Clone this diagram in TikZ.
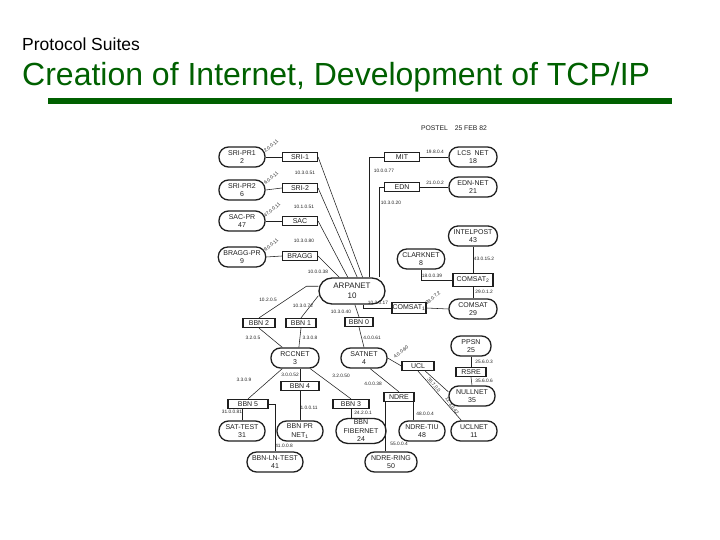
\documentclass[tikz,border=0pt]{standalone}
\usepackage{fontspec}
\setmainfont{Liberation Sans}
\usepackage{tikz}
\usetikzlibrary{positioning}

% colour of the slide title
\definecolor{titlegreen}{RGB}{0,96,0}
% colour of the scanned map
\colorlet{ink}{black!88}

\tikzset{
  % network (rounded box)
  net/.style={rectangle, rounded corners=9.5pt, draw=ink, line width=1.3pt,
    minimum width=46pt, minimum height=20pt, inner xsep=5pt, inner ysep=1pt,
    align=center, font=\fontsize{7}{8.5}\selectfont, text=ink},
  % gateway (square box)
  gate/.style={rectangle, draw=ink, line width=1.2pt, minimum width=35pt,
    minimum height=9pt, inner sep=0.6pt, font=\fontsize{7}{7}\selectfont, text=ink},
  % address label
  addr/.style={inner sep=0pt, font=\fontsize{4.8}{5}\selectfont, text=ink},
  % connection
  link/.style={draw=ink, line width=0.55pt},
}

\begin{document}
\begin{tikzpicture}[x=1pt,y=-1pt]
  \useasboundingbox (0,0) rectangle (720,540);

  % slide title
  \node[anchor=base west, inner sep=0pt, font=\fontsize{17.5}{20}\selectfont] (suite) at (22,51) {Protocol Suites};
  \node[anchor=base west, inner sep=0pt, text=titlegreen, font=\fontsize{32}{36}\selectfont] (title) at (22,86) {Creation of Internet, Development of TCP/IP};
  \fill[titlegreen] (48,98) rectangle (672,104);

  % date stamp
  \node[font=\fontsize{6.8}{7}\selectfont, text=ink] (postel) at (454,128) {POSTEL\quad 25 FEB 82};

  % packet radio nets and their gateways
  \node[net] (sripr1) at (242,157) {SRI-PR1\\2};
  \node[net] (sripr2) at (242,190) {SRI-PR2\\6};
  \node[net] (sacpr) at (242,221) {SAC-PR\\47};
  \node[net] (braggpr) at (242,257) {BRAGG-PR\\9};
  \node[gate] (sri1) at (300,157) {SRI-1};
  \node[gate] (sri2) at (300,188) {SRI-2};
  \node[gate] (sac) at (300,221) {SAC};
  \node[gate] (bragg) at (300,256) {BRAGG};

  % upper right
  \node[gate] (mit) at (402,157) {MIT};
  \node[gate] (edn) at (402,187) {EDN};
  \node[net, minimum width=48pt] (lcsnet) at (473,157) {LCS\enspace NET\\18};
  \node[net, minimum width=48pt] (ednnet) at (473,187) {EDN-NET\\21};
  \node[net, minimum width=48pt] (intelpost) at (473,236) {INTELPOST\\43};
  \node[net, minimum width=44pt] (clarknet) at (421,259) {CLARKNET\\8};
  \node[gate, minimum width=40pt, minimum height=13pt] (comsat2) at (473,280) {COMSAT\textsubscript{2}};

  % backbone
  \node[net, minimum width=66pt, minimum height=26pt, rounded corners=13pt, font=\fontsize{8}{9.5}\selectfont] (arpanet) at (352,291) {ARPANET\\10};
  \node[gate, minimum width=32pt, minimum height=11pt] (comsat1) at (409,308) {COMSAT\textsubscript{1}};
  \node[net, minimum width=48pt] (comsat29) at (473,309) {COMSAT\\29};
  \node[gate, minimum width=32pt] (bbn2) at (259,323) {BBN 2};
  \node[gate, minimum width=30pt] (bbn1) at (301,323) {BBN 1};
  \node[gate, minimum width=28pt] (bbn0) at (359,322) {BBN 0};

  % lower half
  \node[net, minimum width=40pt] (ppsn) at (471,346) {PPSN\\25};
  \node[net, minimum width=48pt] (rccnet) at (295,358) {RCCNET\\3};
  \node[net] (satnet) at (364,358) {SATNET\\4};
  \node[gate, minimum width=32pt] (ucl) at (418,366) {UCL};
  \node[gate, minimum width=30pt] (rsre) at (471,372) {RSRE};
  \node[gate, minimum width=38pt] (bbn4) at (300,386) {BBN 4};
  \node[net] (nullnet) at (472,396) {NULLNET\\35};
  \node[gate, minimum width=30pt] (ndre) at (399,397) {NDRE};
  \node[gate, minimum width=40pt] (bbn5) at (248,404) {BBN 5};
  \node[gate, minimum width=36pt] (bbn3) at (351,404) {BBN 3};
  \node[net] (sattest) at (242,431) {SAT-TEST\\31};
  \node[net] (bbnprnet) at (300,431) {BBN PR\\NET\textsubscript{1}};
  \node[net, minimum width=50pt, minimum height=25pt, rounded corners=12pt] (fibernet) at (361,431) {BBN\\FIBERNET\\24};
  \node[net] (ndretiu) at (422,431) {NDRE-TIU\\48};
  \node[net] (uclnet) at (474,431) {UCLNET\\11};
  \node[net, minimum width=54pt] (bbnlntest) at (275,462) {BBN-LN-TEST\\41};
  \node[net, minimum width=52pt] (ndrering) at (391,462) {NDRE-RING\\50};

  % connections
  \draw[link] (sripr1.east) -- (sri1.west);
  \draw[link] (sripr2.east) -- (sri2.west);
  \draw[link] (sacpr.east) -- (sac.west);
  \draw[link] (braggpr.east) -- (bragg.west);
  \draw[link] (sri1.east) -- (arpanet.52);
  \draw[link] (sri2.east) -- (arpanet.69);
  \draw[link] (sac.east) -- (arpanet.107);
  \draw[link] (bragg.east) -- (arpanet.133);
  \draw[link] (mit.west) -| (arpanet.39);
  \draw[link] (edn.west) -| (arpanet.27);
  \draw[link] (mit.east) -- (lcsnet.west);
  \draw[link] (edn.east) -- (ednnet.west);
  \draw[link] (intelpost.south) -- (comsat2.north);
  \draw[link] (clarknet.south) |- (comsat2.west);
  \draw[link] (comsat2.south) -- (comsat29.north);
  \draw[link] (arpanet.310) |- (comsat1.west);
  \draw[link] (comsat1.east) -- (comsat29.west);
  \draw[link] (arpanet.172) -- ++(-12,0) -- (bbn2.north);
  \draw[link] (arpanet.188) -- (bbn1.north);
  \draw[link] (arpanet.282) -- (bbn0.north);
  \draw[link] (bbn0.south) -- (satnet.north);
  \draw[link] (bbn2.south) -- (rccnet.140);
  \draw[link] (bbn1.south) -- (rccnet.70);
  \draw[link] (rccnet.220) -- (bbn5.north);
  \draw[link] (bbn4.north) -- (bbn4.north |- rccnet.south);
  \draw[link] (bbn4.south) -- (bbnprnet.north);
  \draw[link] (rccnet.325) -- (bbn3.north);
  \draw[link] (bbn3.south) -- (bbn3.south |- fibernet.north);
  \draw[link] (bbn5.east) -| (bbnlntest.north);
  \draw[link] (sattest.north) -- (sattest.north |- bbn5.south);
  \draw[link] (satnet.east) -- (ucl.west);
  \draw[link] (satnet.300) -- (ndre.north);
  \draw[link] (ucl.325) -- (nullnet.170);
  \draw[link] (ucl.south) -- (uclnet.140);
  \draw[link] (ppsn.south) -- (rsre.north);
  \draw[link] (rsre.south) -- (nullnet.north);
  \draw[link] (ndre.340) -- (ndre.340 |- ndretiu.north);
  \draw[link] (ndre.200) -- (ndre.200 |- ndrering.north);

  % addresses
  \node[addr, rotate=40] (a1) at (271,146) {2.0.0.11};
  \node[addr, rotate=40] (a2) at (271,178) {6.0.0.11};
  \node[addr, rotate=40] (a3) at (272,210) {47.0.0.11};
  \node[addr, rotate=40] (a4) at (271,245) {9.0.0.11};
  \node[addr] (a5) at (305,173) {10.3.0.51};
  \node[addr] (a6) at (304,207) {10.1.0.51};
  \node[addr] (a7) at (304,241) {10.3.0.80};
  \node[addr] (a8) at (318,272) {10.0.0.38};
  \node[addr] (a9) at (435,152) {19.8.0.4};
  \node[addr] (a10) at (384,171) {10.0.0.77};
  \node[addr] (a11) at (435,183) {21.0.0.2};
  \node[addr] (a12) at (391,203) {10.3.0.20};
  \node[addr] (a13) at (484,259) {43.0.15.2};
  \node[addr] (a14) at (432,276) {18.0.0.39};
  \node[addr] (a15) at (484,292) {29.0.1.2};
  \node[addr] (a16) at (378,303) {10.2.0.17};
  \node[addr, rotate=40] (a17) at (433,298) {29.0.7.2};
  \node[addr] (a18) at (268,300) {10.2.0.5};
  \node[addr] (a19) at (303,306) {10.3.0.72};
  \node[addr] (a20) at (341,312) {10.3.0.40};
  \node[addr] (a21) at (253,338) {3.2.0.5};
  \node[addr] (a22) at (310,338) {3.3.0.8};
  \node[addr] (a23) at (372,338) {4.0.0.61};
  \node[addr, rotate=40] (a24) at (401,352) {4.0.0.60};
  \node[addr] (a25) at (244,380) {3.3.0.9};
  \node[addr] (a26) at (290,375) {3.0.0.52};
  \node[addr] (a27) at (341,376) {3.2.0.50};
  \node[addr] (a28) at (484,362) {25.6.0.3};
  \node[addr] (a29) at (373,384) {4.0.0.38};
  \node[addr] (a30) at (484,381) {35.6.0.6};
  \node[addr, rotate=-50] (a31) at (434,385) {35.7.0.0};
  \node[addr, rotate=-55] (a32) at (452,406) {11.3.0.42};
  \node[addr] (a33) at (232,412) {31.0.0.81};
  \node[addr] (a34) at (309,408) {1.0.0.11};
  \node[addr] (a35) at (363,413) {24.2.0.1};
  \node[addr] (a36) at (425,414) {48.0.0.4};
  \node[addr] (a37) at (284,446) {41.0.0.8};
  \node[addr] (a38) at (399,444) {55.0.0.4};

\end{tikzpicture}
\end{document}
